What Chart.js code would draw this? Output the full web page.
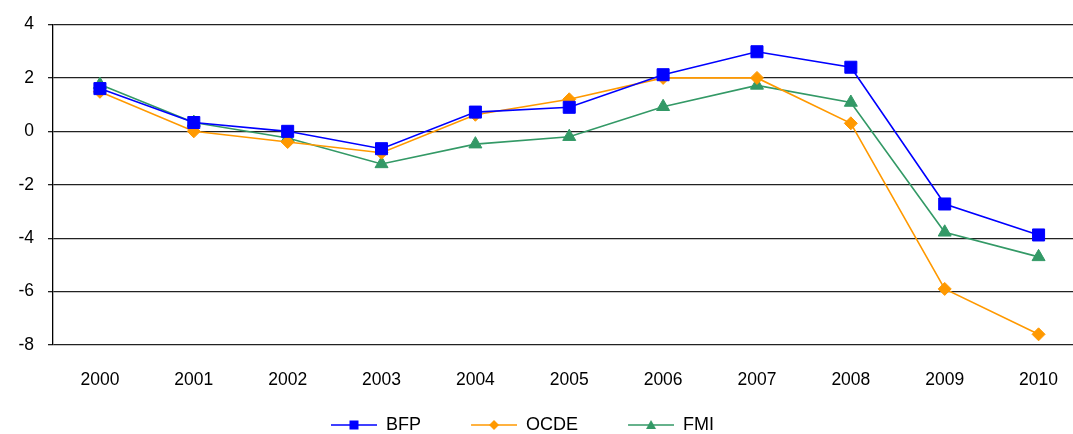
<!DOCTYPE html>
<html>
<head>
<meta charset="utf-8">
<script src="https://cdn.jsdelivr.net/npm/chart.js@4"></script>
<style>
  html, body { margin: 0; padding: 0; background: #fff; overflow: hidden; }
  #wrap { position: relative; width: 1095px; height: 434px; }
</style>
</head>
<body>
<div id="wrap"><canvas id="growthChart"></canvas></div>
<script>
var years = ["2000", "2001", "2002", "2003", "2004", "2005", "2006", "2007", "2008", "2009", "2010"];
var bfpValues = [1.6, 0.33, 0.0, -0.65, 0.72, 0.9, 2.12, 2.98, 2.4, -2.72, -3.88];
var ocdeValues = [1.48, 0.0, -0.4, -0.8, 0.62, 1.2, 2.0, 2.0, 0.3, -5.9, -7.6];
var fmiValues = [1.75, 0.33, -0.25, -1.22, -0.48, -0.2, 0.92, 1.72, 1.08, -3.78, -4.7];
var yTicks = [4, 2, 0, -2, -4, -6, -8];

// legend symbols: blank gap on the left, then a line with the marker
var symGap = 50;
function legendSymbol(color, shape) {
  var c = document.createElement('canvas');
  c.width = symGap + 46; c.height = 12;
  var g = c.getContext('2d');
  var x0 = symGap, cx = symGap + 23;
  g.strokeStyle = color;
  g.lineWidth = 1.5;
  g.beginPath(); g.moveTo(x0, 6); g.lineTo(x0 + 46, 6); g.stroke();
  g.fillStyle = color;
  g.beginPath();
  if (shape == 'rect') {
    g.rect(cx - 4.5, 1.5, 9, 9);
  } else if (shape == 'diamond') {
    g.moveTo(cx, 1); g.lineTo(cx + 5, 6); g.lineTo(cx, 11); g.lineTo(cx - 5, 6);
  } else {
    g.moveTo(cx, 1); g.lineTo(cx + 5, 10); g.lineTo(cx - 5, 10);
  }
  g.closePath();
  g.fill();
  return c;
}
var symbols = [
  legendSymbol('#0000FF', 'rect'),
  legendSymbol('#FF9900', 'diamond'),
  legendSymbol('#339966', 'triangle')
];

// moves the legend row: the reference's legend is left of centre and near the bottom edge
var legendShift = {
  id: 'legendShift',
  afterLayout: function (chart) {
    chart.legend.left -= 50;
    chart.legend.right -= 50;
    chart.legend.top += 10;
    chart.legend.bottom += 10;
  }
};

Chart.defaults.font.family = "'Liberation Sans', Arial, sans-serif";
Chart.defaults.font.size = 17.5;
Chart.defaults.color = '#000';

var ctx = document.getElementById('growthChart').getContext("2d");

var myChart = new Chart(ctx, {
  type: 'line',
  data: {
    labels: years,
    datasets: [{
        label: "BFP",
        borderColor: "#0000FF",
        backgroundColor: "#0000FF",
        pointBorderColor: "#0000FF",
        pointBackgroundColor: "#0000FF",
        pointStyle: 'rect',
        pointRadius: 8.5,
        pointBorderWidth: 1,
        borderWidth: 1.6,
        fill: false,
        data: bfpValues
      },
      {
        label: "OCDE",
        borderColor: "#FF9900",
        backgroundColor: "#FF9900",
        pointBorderColor: "#FF9900",
        pointBackgroundColor: "#FF9900",
        pointStyle: 'rectRot',
        pointRadius: 6.5,
        pointBorderWidth: 1,
        borderWidth: 1.6,
        fill: false,
        data: ocdeValues
      },
      {
        label: "FMI",
        borderColor: "#339966",
        backgroundColor: "#339966",
        pointBorderColor: "#339966",
        pointBackgroundColor: "#339966",
        pointStyle: 'triangle',
        pointRadius: 7.5,
        pointBorderWidth: 1,
        borderWidth: 1.6,
        fill: false,
        data: fmiValues
      }
    ]
  },
  options: {
    responsive: true,
    maintainAspectRatio: false,
    animation: false,
    layout: { padding: { top: 24, bottom: 0, left: 0, right: 0 } },
    scales: {
      x: {
        offset: true,
        grid: { display: false, drawTicks: false },
        border: { display: false },
        ticks: { padding: 25, maxRotation: 0 },
        afterFit: function (scale) { scale.height = 61; }
      },
      y: {
        min: -8,
        max: 4,
        afterBuildTicks: function (scale) {
          scale.ticks = yTicks.map(function (v) { return { value: v }; });
        },
        grid: { color: '#222', lineWidth: 1.3, tickLength: 5 },
        border: { display: true, color: '#000', width: 1.3 },
        ticks: { padding: 14 },
        afterFit: function (scale) { scale.width = 53; }
      }
    },
    plugins: {
      tooltip: { enabled: false },
      legend: {
        display: true,
        position: 'bottom',
        labels: {
          usePointStyle: true,
          pointStyleWidth: symGap + 46,
          padding: 0,
          font: { size: 18 },
          generateLabels: function (chart) {
            var items = Chart.defaults.plugins.legend.labels.generateLabels(chart);
            items.forEach(function (it, i) { it.pointStyle = symbols[i]; });
            return items;
          }
        }
      }
    }
  },
  plugins: [legendShift]
});
</script>
</body>
</html>
